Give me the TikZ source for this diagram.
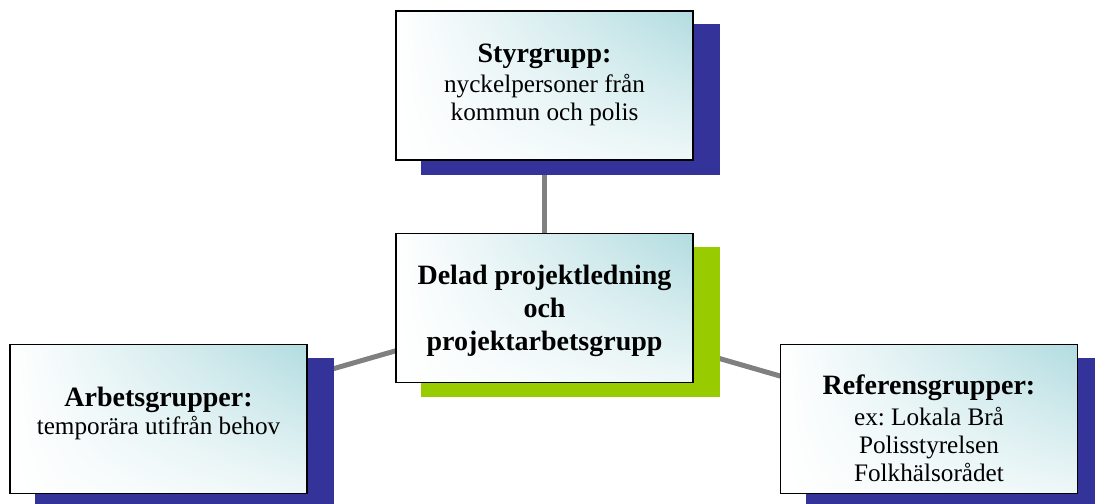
\documentclass[tikz,border=0pt]{standalone}
\usepackage{fontspec}
\setmainfont{Liberation Serif}
\usetikzlibrary{shadings}
\frenchspacing
\definecolor{boxteal}{RGB}{178,220,224}
\definecolor{sblue}{RGB}{51,51,153}
\definecolor{sgreen}{RGB}{153,204,0}
\definecolor{lgray}{RGB}{128,128,128}
\pgfdeclarelayer{lines}
\pgfdeclarelayer{shadows}
\pgfsetlayers{lines,shadows,main}
\begin{document}
\begin{tikzpicture}[x=0.5pt,y=-0.5pt,
  box/.style={draw=black, line width=0.8pt, rectangle, inner sep=0pt,
    minimum width=148.5pt, minimum height=74.5pt,
    upper left=white, upper right=boxteal, lower left=white, lower right=boxteal!22},
  txt/.style={align=center, inner sep=0pt, font=\frenchspacing\fontsize{12.6}{14}\selectfont},
  head/.style={font=\bfseries\fontsize{14}{16.5}\selectfont},
  conn/.style={draw=lgray, line width=2.5pt}]
\useasboundingbox (0,0) rectangle (1095,503);
% boxes
\node[box] (top) at (544.5,85.5) {};
\node[box] (mid) at (544.5,308) {};
\node[box] (left) at (158.5,419) {};
\node[box] (right) at (929,419) {};
% texts
\node[txt] (topt) at ([shift={(0,-1)}]top.center)
  {{\bfseries\fontsize{14}{16.5}\selectfont Styrgrupp:}\\[1pt] nyckelpersoner från\\ kommun och polis};
\node[txt, head] (midt) at ([shift={(0,3)}]mid.center)
  {Delad projektledning\\ och\\ projektarbetsgrupp};
\node[txt] (leftt) at ([shift={(0,-6)}]left.center)
  {{\bfseries\fontsize{14}{16.5}\selectfont Arbetsgrupper:}\\ temporära utifrån behov};
\node[txt] (rightt) at ([shift={(0,9)}]right.center)
  {{\bfseries\fontsize{14}{16.5}\selectfont Referensgrupper:}\\[1.5pt] ex: Lokala Brå\\ Polisstyrelsen\\ Folkhälsorådet};
% shadows
\begin{pgfonlayer}{shadows}
  \fill[sblue] ([shift={(26,14)}]top.north west) rectangle ([shift={(26,14)}]top.south east);
  \fill[sgreen] ([shift={(26,14)}]mid.north west) rectangle ([shift={(26,14)}]mid.south east);
  \fill[sblue] ([shift={(26,14)}]left.north west) rectangle ([shift={(26,14)}]left.south east);
  \fill[sblue] ([shift={(26,14)}]right.north west) rectangle ([shift={(26,14)}]right.south east);
\end{pgfonlayer}
% connectors
\begin{pgfonlayer}{lines}
  \draw[conn] (top.center) -- (mid.center);
  \draw[conn] (mid.center) -- (left.center);
  \draw[conn] (mid.center) -- (right.center);
\end{pgfonlayer}
\end{tikzpicture}
\end{document}
